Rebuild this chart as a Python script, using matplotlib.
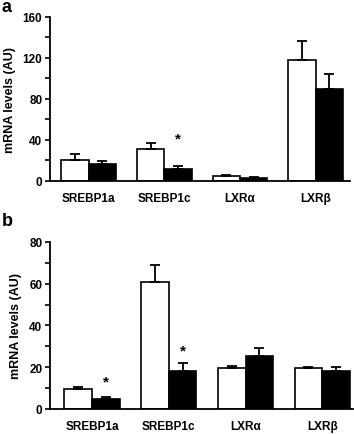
import matplotlib
matplotlib.use('Agg')
import matplotlib.pyplot as plt
import numpy as np

plt.rcParams['font.family'] = ['Liberation Sans', 'DejaVu Sans']
plt.rcParams['font.weight'] = 'bold'
plt.rcParams['axes.labelweight'] = 'bold'

genes = ['SREBP1a', 'SREBP1c', 'LXR\u03b1', 'LXR\u03b2']

# panel a
a_white = [20, 31, 5, 118]
a_white_err = [6, 6, 0.5, 18]
a_black = [16, 12, 3, 90]
a_black_err = [3, 2.5, 1, 14]
a_stars = [None, 41, None, None]

# panel b
b_white = [9.5, 61, 19.5, 19.5]
b_white_err = [0.8, 8, 1, 0.6]
b_black = [5, 18, 25.5, 18]
b_black_err = [0.8, 4, 3.7, 2]
b_stars = [13, 28, None, None]

fig = plt.figure(figsize=(3.54, 4.35), dpi=100)

def panel(rect, white, werr, black, berr, stars, ymax, step, xlim, letter, ly):
    ax = fig.add_axes(rect)
    x = np.arange(len(genes))
    w = 0.36
    ek = dict(lw=1.3, capsize=3.5, capthick=1.3, ecolor='black')
    ax.bar(x - w/2, white, w, color='white', edgecolor='black', lw=1.2,
           yerr=[np.zeros(len(werr)), werr], error_kw=ek, zorder=2)
    ax.bar(x + w/2, black, w, color='black', edgecolor='black', lw=1.2,
           yerr=[np.zeros(len(berr)), berr], error_kw=ek, zorder=2)
    for i, s in enumerate(stars):
        if s is not None:
            ax.text(x[i] + w/2, s, '*', ha='center', va='center', fontsize=11)
    ax.set_ylim(0, ymax)
    ax.set_xlim(*xlim)
    ax.set_yticks(np.arange(0, ymax + 1, step))
    ax.set_yticks(np.arange(step/2, ymax, step), minor=True)
    ax.tick_params(axis='y', which='both', direction='out', length=3.5, width=1.2,
                   labelsize=8.5, pad=2)
    ax.set_xticks(x)
    ax.set_xticklabels(genes, fontsize=8.5)
    ax.tick_params(axis='x', length=0, pad=8)
    for s in ['top', 'right']:
        ax.spines[s].set_visible(False)
    for s in ['left', 'bottom']:
        ax.spines[s].set_linewidth(1.3)
    ax.set_ylabel('mRNA levels (AU)', fontsize=9, labelpad=5)
    fig.text(0.005, ly, letter, fontsize=13, fontweight='bold', va='center')
    return ax

panel([0.141, 0.582, 0.847, 0.377], a_white, a_white_err, a_black, a_black_err,
      a_stars, 160, 40, (-0.51, 3.45), 'a', 0.982)
panel([0.141, 0.0575, 0.856, 0.384], b_white, b_white_err, b_black, b_black_err,
      b_stars, 80, 20, (-0.55, 3.4), 'b', 0.49)

fig.savefig('out.png', dpi=100)
